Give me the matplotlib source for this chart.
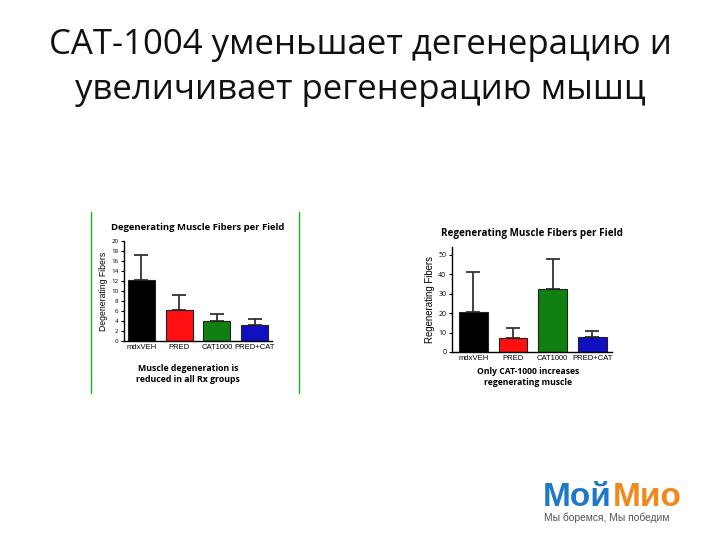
import matplotlib
matplotlib.use("Agg")
from matplotlib import pyplot as plt

plt.rcParams['font.family'] = ['Open Sans', 'DejaVu Sans']

# data
title_lines = ["САТ-1004 уменьшает дегенерацию и", "увеличивает регенерацию мышц"]
groups = ["mdxVEH", "PRED", "CAT1000", "PRED+CAT"]
bar_colors = ["#000000", "#ff1010", "#108010", "#1010c0"]

degen_vals = [12.2, 6.3, 4.0, 3.2]
degen_err = [5.1, 3.0, 1.4, 1.3]
regen_vals = [20.6, 7.3, 32.4, 7.6]
regen_err = [20.3, 5.2, 15.4, 3.3]

W, H = 720, 540
fig = plt.figure(figsize=(7.2, 5.4), dpi=100)


def px(x, y):
    return x / W, 1 - y / H


def add_ax(left, top, right, bottom):
    return fig.add_axes([left / W, 1 - bottom / H, (right - left) / W, (bottom - top) / H])


# slide title
for i, line in enumerate(title_lines):
    fig.text(*px(360, 45 + i * 45), line, ha='center', va='center', fontsize=25, color='#111111')


def draw_panel(ax, vals, err, ymax, yticks, width, title, ylabel, ytick_size, ylabel_size, title_size):
    x = range(len(groups))
    ax.bar(x, vals, width=width, color=bar_colors, edgecolor='#222222', linewidth=0.8, zorder=2)
    ax.errorbar(x, vals, yerr=[[0] * len(vals), err], fmt='none', ecolor='#333333',
                elinewidth=1.3, capsize=5, capthick=1.3, zorder=1)
    ax.set_ylim(0, ymax)
    ax.set_yticks(yticks)
    ax.set_xticks(list(x))
    ax.set_xticklabels(groups, fontsize=5.5, family=['Liberation Sans'])
    ax.tick_params(axis='y', labelsize=ytick_size, length=2.5, width=0.8, pad=1.5)
    ax.tick_params(axis='x', length=0, pad=2)
    for s in ['top', 'right']:
        ax.spines[s].set_visible(False)
    for s in ['left', 'bottom']:
        ax.spines[s].set_linewidth(1.0)
    ax.set_ylabel(ylabel, fontsize=ylabel_size, family=['Liberation Sans'], labelpad=2)
    ax.set_title(title, fontsize=title_size, fontweight='bold', pad=8)


# left panel
axl = add_ax(124, 241, 272, 341)
axl.set_xlim(-0.46, 3.46)
draw_panel(axl, degen_vals, degen_err, 20, range(0, 21, 2), 0.72,
           "Degenerating Muscle Fibers per Field", "Degenerating Fibers", 4.5, 6.2, 6.8)
fig.text(*px(188, 374), "Muscle degeneration is\nreduced in all Rx groups", ha='center', va='center',
         fontsize=6.3, fontweight='bold', linespacing=1.3)
fig.add_artist(plt.Line2D([91 / W, 91 / W], [1 - 212 / H, 1 - 393 / H], color='#22aa22', lw=1.0))
fig.add_artist(plt.Line2D([299 / W, 299 / W], [1 - 212 / H, 1 - 393 / H], color='#22aa22', lw=1.0))

# right panel
axr = add_ax(452, 247, 612, 352)
axr.set_xlim(-0.54, 3.5)
draw_panel(axr, regen_vals, regen_err, 54, range(0, 51, 10), 0.73,
           "Regenerating Muscle Fibers per Field", "Regenerating Fibers", 5, 6.9, 7.1)
fig.text(*px(528, 377), "Only CAT-1000 increases\nregenerating muscle", ha='center', va='center',
         fontsize=6.2, fontweight='bold', linespacing=1.3)

# logo
fig.canvas.draw()
t1 = fig.text(*px(543, 506), "Мой", ha='left', va='baseline', fontsize=24, fontweight='bold',
              color='#1f78c8', family=['Liberation Sans'])
bb = t1.get_window_extent(renderer=fig.canvas.get_renderer())
fig.text(bb.x1 / W + 1 / W, 1 - 506 / H, "Мио", ha='left', va='baseline', fontsize=24, fontweight='bold',
         color='#f08a1c', family=['Liberation Sans'])
fig.text(*px(544, 513), "Мы боремся, Мы победим", ha='left', va='top', fontsize=7.4,
         color='#555555', family=['Liberation Sans'])

fig.savefig("out.png", dpi=100)
